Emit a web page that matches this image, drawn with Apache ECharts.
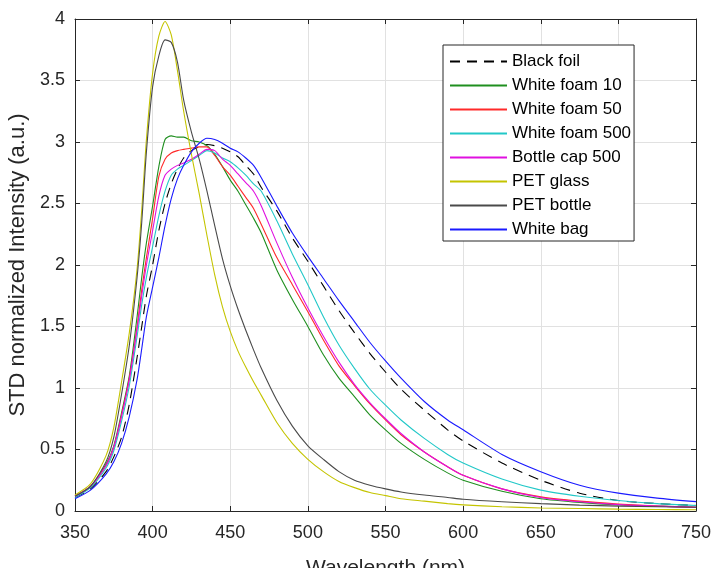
<!DOCTYPE html>
<html>
<head>
<meta charset="utf-8">
<script src="https://cdn.jsdelivr.net/npm/echarts@6/dist/echarts.min.js"></script>
<style>html,body{margin:0;padding:0;background:#fff}#c{width:713px;height:568px}</style>
</head>
<body>
<div id="c"></div>
<script>
// Wavelength grid (nm)
const wavelength = [350,360,370,375,380,385,390,393,396,400,404,408,412,416,420,425,430,435,440,445,450,455,460,465,470,480,490,500,510,520,530,540,550,560,575,590,600,625,650,675,700,725,750];

const blackFoil   = [0.11,0.18,0.32,0.44,0.60,0.87,1.25,1.50,1.75,2.00,2.28,2.50,2.66,2.78,2.87,2.93,2.96,2.98,2.97,2.95,2.92,2.88,2.81,2.74,2.63,2.44,2.22,2.03,1.83,1.63,1.45,1.28,1.13,0.99,0.82,0.66,0.57,0.39,0.25,0.145,0.085,0.06,0.045];
const whiteFoam10 = [0.12,0.20,0.38,0.53,0.80,1.10,1.58,1.90,2.18,2.48,2.80,3.02,3.05,3.04,3.04,3.01,3.00,2.97,2.90,2.80,2.69,2.60,2.49,2.38,2.26,1.96,1.72,1.50,1.27,1.08,0.93,0.78,0.66,0.55,0.42,0.31,0.25,0.16,0.10,0.07,0.05,0.04,0.03];
const whiteFoam50 = [0.12,0.20,0.37,0.52,0.78,1.08,1.50,1.80,2.06,2.38,2.72,2.86,2.91,2.93,2.94,2.95,2.96,2.96,2.89,2.80,2.73,2.64,2.55,2.46,2.33,2.06,1.84,1.62,1.39,1.18,1.02,0.87,0.74,0.62,0.48,0.36,0.29,0.18,0.115,0.08,0.057,0.04,0.03];
const whiteFoam500= [0.11,0.19,0.35,0.49,0.73,1.02,1.42,1.68,1.90,2.15,2.40,2.60,2.73,2.78,2.81,2.85,2.89,2.93,2.91,2.87,2.84,2.79,2.73,2.66,2.60,2.36,2.09,1.84,1.58,1.35,1.16,0.99,0.86,0.74,0.59,0.46,0.39,0.26,0.17,0.12,0.085,0.06,0.045];
const bottleCap500= [0.12,0.20,0.37,0.52,0.77,1.07,1.48,1.75,2.00,2.28,2.56,2.73,2.78,2.81,2.83,2.86,2.90,2.94,2.93,2.86,2.81,2.74,2.67,2.60,2.48,2.18,1.90,1.65,1.42,1.21,1.03,0.88,0.75,0.63,0.48,0.36,0.29,0.18,0.11,0.075,0.052,0.04,0.03];
const petGlass    = [0.13,0.22,0.45,0.68,1.05,1.45,1.97,2.45,3.02,3.56,3.86,3.98,3.87,3.58,3.25,2.90,2.58,2.24,1.92,1.66,1.46,1.30,1.17,1.05,0.94,0.72,0.55,0.42,0.32,0.24,0.19,0.15,0.125,0.10,0.08,0.06,0.05,0.035,0.025,0.02,0.015,0.012,0.01];
const petBottle   = [0.12,0.20,0.40,0.60,0.95,1.35,1.90,2.35,2.92,3.45,3.70,3.83,3.81,3.65,3.34,3.08,2.86,2.60,2.32,2.05,1.83,1.64,1.47,1.31,1.16,0.90,0.69,0.53,0.42,0.32,0.25,0.21,0.18,0.155,0.13,0.11,0.095,0.075,0.06,0.048,0.04,0.035,0.03];
const whiteBag    = [0.10,0.17,0.30,0.40,0.55,0.77,1.07,1.32,1.58,1.82,2.06,2.32,2.54,2.70,2.81,2.92,2.99,3.03,3.02,2.99,2.95,2.92,2.87,2.81,2.71,2.48,2.26,2.07,1.89,1.71,1.54,1.37,1.22,1.08,0.89,0.74,0.66,0.46,0.32,0.21,0.145,0.105,0.076];

const seriesNames = ['Black foil','White foam 10','White foam 50','White foam 500','Bottle cap 500','PET glass','PET bottle','White bag'];
const seriesValues = [blackFoil, whiteFoam10, whiteFoam50, whiteFoam500, bottleCap500, petGlass, petBottle, whiteBag];
const seriesColors = ['#000000','#1f8f1f','#ff2a2a','#22c8c8','#e010e0','#c4c400','#4a4a4a','#1a1aff'];
const xTicks = [350,400,450,500,550,600,650,700,750];
const yTicks = [0,0.5,1,1.5,2,2.5,3,3.5,4];

const FONT = 'Liberation Sans, Arial, sans-serif';
const axisColor = '#262626';

const chart = echarts.init(document.getElementById('c'), null, {renderer:'canvas'});
const series = seriesNames.map((n,i)=>({
  name:n, type:'line', xAxisIndex:0, yAxisIndex:0,
  data: wavelength.map((w,k)=>[w, seriesValues[i][k]]),
  symbol:'none', smooth:0.25,
  lineStyle:{color:seriesColors[i], width:1.1, type: i===0 ? [10,7] : 'solid'},
  itemStyle:{color:seriesColors[i]},
  z: 2+i
}));

const baseX = {
  type:'value', min:350, max:750, interval:50,
  axisLine:{show:true, onZero:false, lineStyle:{color:axisColor, width:1}},
  axisTick:{show:true, inside:true, length:5, lineStyle:{color:axisColor}},
  splitLine:{show:false}
};
const baseY = {
  type:'value', min:0, max:4, interval:0.5,
  axisLine:{show:true, onZero:false, lineStyle:{color:axisColor, width:1}},
  axisTick:{show:true, inside:true, length:5, lineStyle:{color:axisColor}},
  splitLine:{show:false}
};

chart.setOption({
  animation:false,
  backgroundColor:'#ffffff',
  grid:{left:75, right:17, top:19, bottom:57, containLabel:false, outerBoundsMode:'none'},
  xAxis:[
    Object.assign({}, baseX, {
      position:'bottom',
      name:'Wavelength (nm)', nameLocation:'middle', nameGap:47,
      nameTextStyle:{fontFamily:FONT, fontSize:21, color:axisColor},
      axisLabel:{fontFamily:FONT, fontSize:18, color:axisColor, margin:13,
        formatter:v=> xTicks.includes(v) ? String(v) : ''},
      splitLine:{show:true, lineStyle:{color:'#e1e1e1', width:1}}
    }),
    Object.assign({}, baseX, {position:'top', axisLabel:{show:false}})
  ],
  yAxis:[
    Object.assign({}, baseY, {
      position:'left',
      name:'STD normalized Intensity (a.u.)', nameLocation:'middle', nameGap:41,
      nameTextStyle:{fontFamily:FONT, fontSize:22, color:axisColor},
      axisLabel:{fontFamily:FONT, fontSize:18, color:axisColor, margin:10,
        formatter:v=> yTicks.includes(v) ? String(v) : ''},
      splitLine:{show:true, lineStyle:{color:'#e1e1e1', width:1}}
    }),
    Object.assign({}, baseY, {position:'right', axisLabel:{show:false}})
  ],
  legend:{
    orient:'vertical', left:443, top:45,
    data:seriesNames,
    itemWidth:57, itemHeight:14, itemGap:7,
    padding:[8,3,3,6],
    backgroundColor:'#ffffff', borderColor:axisColor, borderWidth:1, borderRadius:0,
    textStyle:{fontFamily:FONT, fontSize:17, color:'#000000'},
    itemStyle:{opacity:0}
  },
  series: series
});
</script>
</body>
</html>
